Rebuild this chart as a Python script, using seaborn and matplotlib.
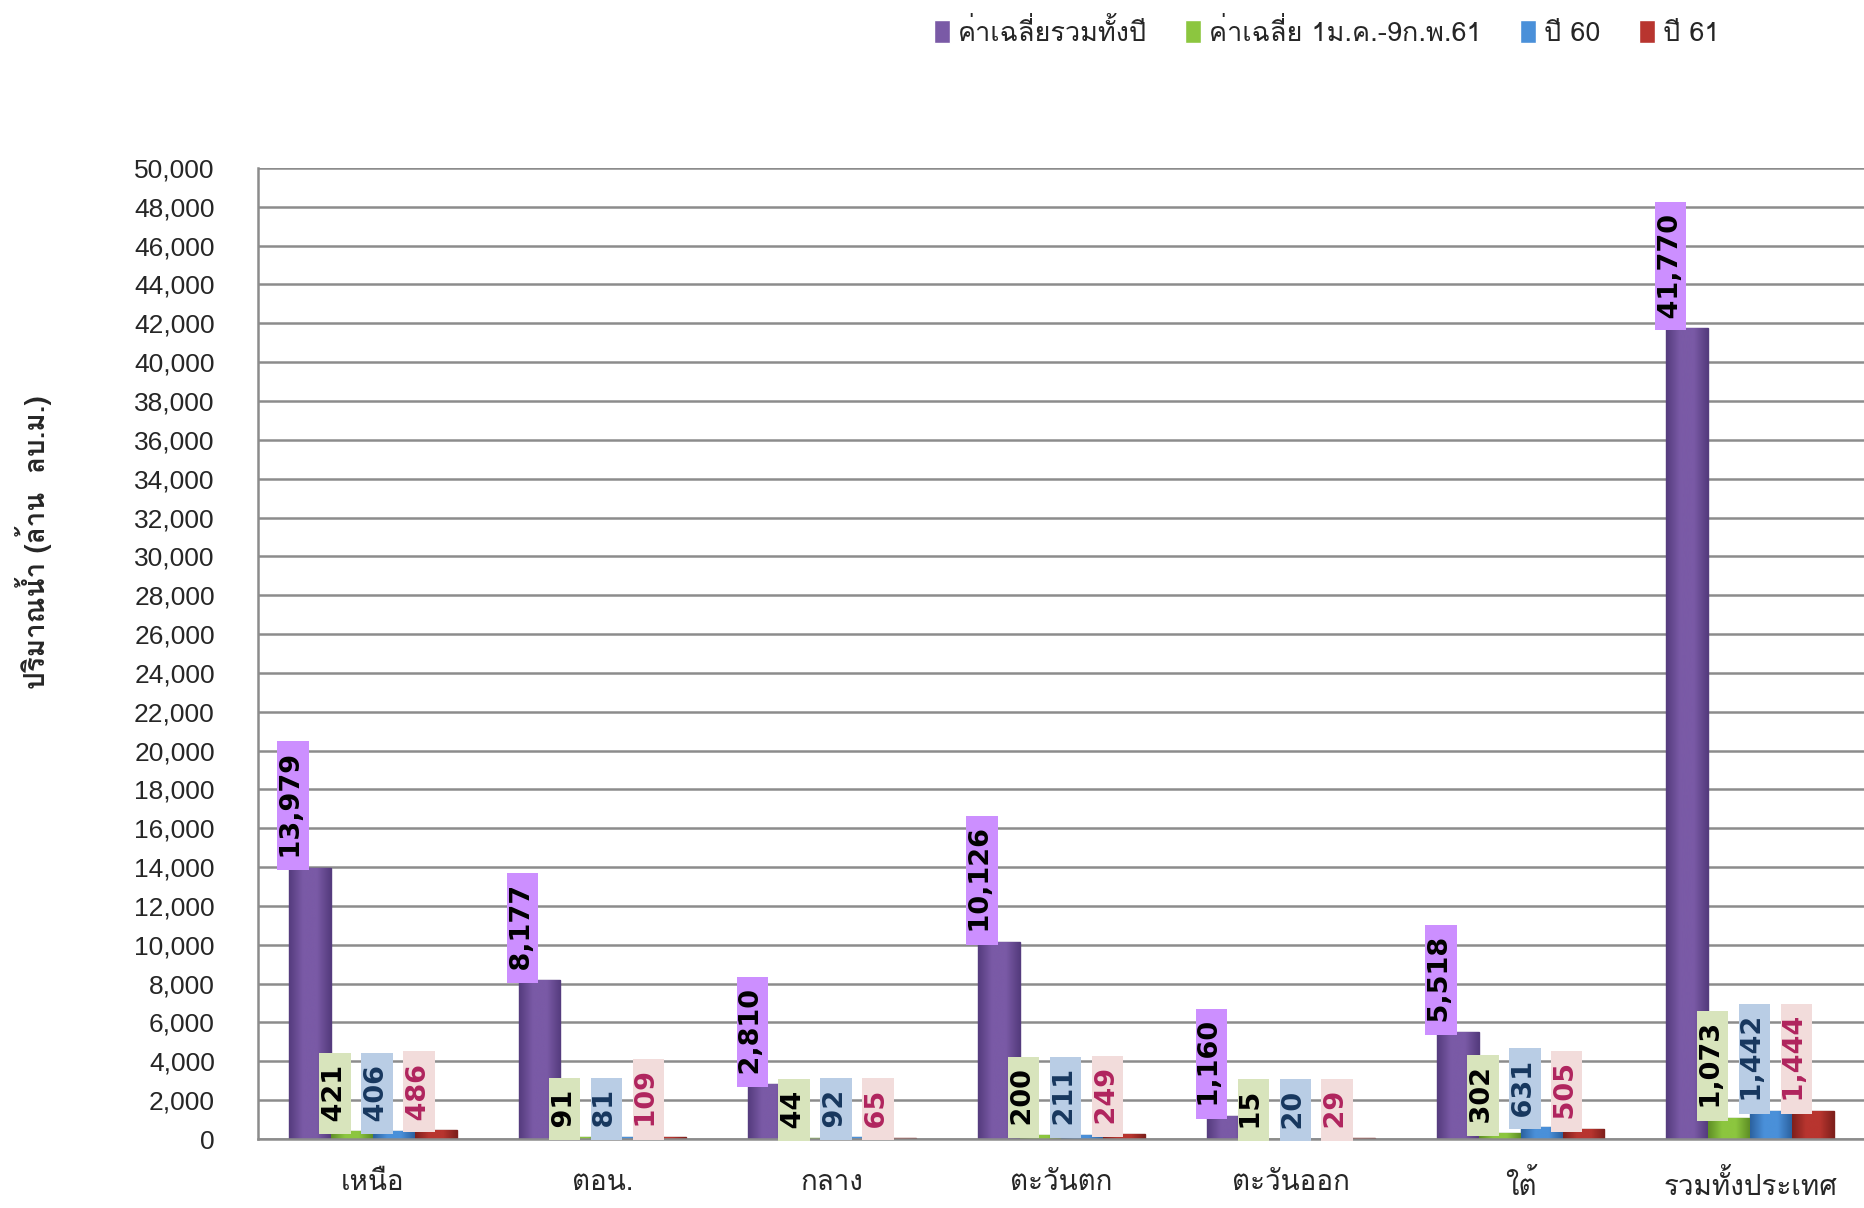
import pandas as pd
import numpy as np
import seaborn as sns
import matplotlib
matplotlib.use("Agg")
import matplotlib.pyplot as plt
from matplotlib.colors import LinearSegmentedColormap
from matplotlib.ticker import FuncFormatter

# ---- data ----
regions = ["เหนือ", "ตอน.", "กลาง", "ตะวันตก", "ตะวันออก", "ใต้", "รวมทั้งประเทศ"]
series = ["ค่าเฉลี่ยรวมทั้งปี", "ค่าเฉลี่ย 1ม.ค.-9ก.พ.61", "ปี 60", "ปี 61"]
avg_year = [13979, 8177, 2810, 10126, 1160, 5518, 41770]
avg_period = [421, 91, 44, 200, 15, 302, 1073]
year_60 = [406, 81, 92, 211, 20, 631, 1442]
year_61 = [486, 109, 65, 249, 29, 505, 1444]

bar_colors = ["#7a5aa6", "#8cc63f", "#4a90d9", "#b8352f"]
dark_colors = ["#553c7e", "#5f8f25", "#2c62a0", "#7f201c"]
box_colors = ["#cc8fff", "#d8e4bc", "#b9cde5", "#f2dcdb"]
text_colors = ["#000000", "#000000", "#17375e", "#b0245e"]

df = pd.DataFrame({
    "region": regions * 4,
    "series": np.repeat(series, len(regions)),
    "value": avg_year + avg_period + year_60 + year_61,
})

sns.set_style("white")
plt.rcParams["font.family"] = ["Loma", "DejaVu Sans"]

fig = plt.figure(figsize=(18.65, 12.08), dpi=100)
ax = fig.add_axes([0.1383, 0.0571, 0.8617, 0.8039])

sns.barplot(data=df, x="region", y="value", hue="series", order=regions,
            hue_order=series, palette=bar_colors, width=0.73, ax=ax,
            errorbar=None, legend=True, saturation=1)

# shading on the bars + value labels
for cont, col, dk, bc, tc in zip(ax.containers, bar_colors, dark_colors,
                                 box_colors, text_colors):
    cm = LinearSegmentedColormap.from_list("g", [dk, col, col, dk])
    grad = np.linspace(0, 1, 64).reshape(1, -1)
    for bar in cont:
        bar.set_edgecolor(dk)
        bar.set_linewidth(1.0)
        x0, w, h = bar.get_x(), bar.get_width(), bar.get_height()
        im = ax.imshow(grad, extent=[x0, x0 + w, 0, h], aspect="auto", cmap=cm,
                       zorder=bar.get_zorder(), interpolation="bicubic")
        im.set_clip_path(bar)
        ax.text(x0 + w * 0.1, h, f" {int(h):,} ", rotation=90, ha="center", va="bottom",
                fontsize=19.5, fontweight="bold", color=tc, family="DejaVu Sans",
                bbox=dict(boxstyle="square,pad=0.1", fc=bc, ec="none"), zorder=5)

ax.set_xlim(-0.5, 6.5)
ax.set_ylim(0, 50000)
ax.set_yticks(range(0, 50001, 2000))
ax.yaxis.set_major_formatter(FuncFormatter(lambda v, p: f"{int(v):,}"))
ax.grid(axis="y", color="#8c8c8c", linewidth=1.8)
ax.set_axisbelow(True)
for s in ["top", "right"]:
    ax.spines[s].set_visible(False)
for s in ["left", "bottom"]:
    ax.spines[s].set_color("#8c8c8c")
    ax.spines[s].set_linewidth(1.8)
ax.tick_params(axis="y", length=8, width=1.8, color="#8c8c8c", pad=23, labelsize=19)
ax.tick_params(axis="x", length=0, pad=22, labelsize=20)
for t in ax.get_yticklabels():
    t.set_family(["Liberation Sans", "DejaVu Sans"])
ax.set_xlabel("")
ax.set_ylabel("")

fig.text(0.0177, 1 - 542 / 1208, "ปริมาณน้ำ (ล้าน  ลบ.ม.)", rotation=90,
         ha="center", va="center", fontsize=20, fontweight="bold")

handles, labels = ax.get_legend_handles_labels()
ax.get_legend().remove()
fig.legend(handles, labels, loc="center right", bbox_to_anchor=(0.935, 0.9735),
           ncol=4, frameon=False, fontsize=19.5, handlelength=0.6, handleheight=0.9,
           handletextpad=0.3, columnspacing=1.4)

fig.savefig("out.png", dpi=100)
